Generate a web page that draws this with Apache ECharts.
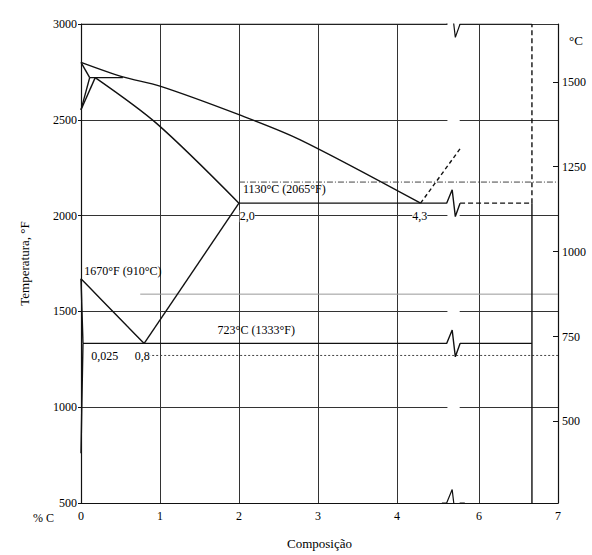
<!DOCTYPE html>
<html>
<head>
<meta charset="utf-8">
<script src="https://cdn.jsdelivr.net/npm/echarts@6/dist/echarts.min.js"></script>
<style>
  html, body { margin: 0; background: #fff; }
  #chart { width: 592px; height: 555px; }
</style>
</head>
<body>
<div id="chart"></div>
<script>
// eixo de composição (%C) com quebra entre 4,7 e 6
var xTickValues = [0, 1, 2, 3, 4, 6, 7]
var yTicksF = [500, 1000, 1500, 2000, 2500, 3000]
var yTicksC = [500, 750, 1000, 1250, 1500]

// curvas do diagrama, pares [%C, °F]
var liquidus = [[0, 2800], [0.53, 2724], [1.0, 2676], [2.0, 2527], [2.77, 2397], [4.3, 2065]]
var liquidusHyper = [[4.3, 2065], [4.82, 2360]]
var solidus = [[0.18, 2720], [0.96, 2480], [2.0, 2065]]
var peritectic = [[0.11, 2720], [0.53, 2720]]
var deltaTop = [[0, 2800], [0.11, 2720]]
var deltaLeft = [[0, 2552], [0.11, 2720]]
var deltaRight = [[0, 2552], [0.18, 2720]]
var a3 = [[0, 1670], [0.24, 1569], [0.58, 1425], [0.8, 1333]]
var acm = [[0.8, 1333], [2.0, 2065]]
var alphaA3 = [[0, 1670], [0.025, 1333]]
var alphaSolvus = [[0.025, 1333], [0.01, 1000], [0, 760]]
var eutecticY = 2065
var eutectoidY = 1333
var cementiteC = 6.67
// linhas auxiliares do papel (°F)
var guideY = [2175, 1590, 1270]
var guideStart = [2.0, 0.75, 0.8]

// rótulos [texto, %C, °F, alinhamento]
var notes = [
  ['1130°C (2065°F)', 2.05, 2137, 'left'],
  ['2,0', 2.01, 1997, 'left'],
  ['4,3', 4.29, 1997, 'center'],
  ['1670°F (910°C)', 0.04, 1711, 'left'],
  ['723°C (1333°F)', 1.73, 1404, 'left'],
  ['0,025', 0.13, 1269, 'left'],
  ['0,8', 0.68, 1269, 'left']
]

var BREAK_SHIFT = 0.96
function toDisp(c) {
  return c <= 5 ? c : c - BREAK_SHIFT
}
function fromDisp(v) {
  return v <= 5 ? v : Math.round((v + BREAK_SHIFT) * 100) / 100
}
function pts(arr) {
  return arr.map(function(p) { return [toDisp(p[0]), p[1]] })
}

var ZX = [4.63, 4.70, 4.74, 4.80]
var ZA = 70
function zigzag(y) {
  return [[ZX[0], y], [ZX[1], y + ZA], [ZX[2], y - ZA], [ZX[3], y]]
}

function line(data, opt) {
  opt = opt || {}
  return {
    type: 'line',
    data: data,
    symbol: 'none',
    silent: true,
    animation: false,
    smooth: opt.smooth || false,
    z: 4,
    lineStyle: { color: opt.color || '#111', width: opt.width || 1.4, type: opt.type || 'solid' }
  }
}

var series = []
// faixa branca da quebra
series.push({
  type: 'line',
  data: [],
  silent: true,
  markArea: {
    silent: true,
    itemStyle: { color: '#fff' },
    data: [[{ xAxis: ZX[0] + 0.01, yAxis: 500 }, { xAxis: ZX[3] - 0.005, yAxis: 3000 }]]
  },
  z: 3
})
// linhas auxiliares
guideY.forEach(function(y, i) {
  series.push(line([[toDisp(guideStart[i]), y], [toDisp(7), y]],
    { color: i === 1 ? '#999' : '#444', width: 1, type: i === 0 ? [6, 2, 1, 2] : (i === 2 ? [2, 2] : 'solid') }))
})
// borda superior
series.push(line([[0, 3000]].concat(zigzag(3000)).concat([[toDisp(cementiteC), 3000]]), { width: 1.2 }))
series.push(line(pts(liquidus), { smooth: 0.3 }))
series.push(line(pts(liquidusHyper), { type: [4, 3] }))
series.push(line(pts(solidus), { smooth: 0.3 }))
series.push(line(pts(peritectic)))
series.push(line(pts(deltaTop)))
series.push(line(pts(deltaLeft)))
series.push(line(pts(deltaRight)))
series.push(line(pts(a3), { smooth: 0.3 }))
series.push(line(pts(acm)))
series.push(line(pts(alphaA3)))
series.push(line(pts(alphaSolvus)))
// eutético
series.push(line([[2.0, eutecticY]].concat(zigzag(eutecticY))))
series.push(line([[ZX[3], eutecticY], [toDisp(cementiteC), eutecticY]], { type: [5, 3] }))
// eutetoide
series.push(line([[0.025, eutectoidY]].concat(zigzag(eutectoidY)).concat([[toDisp(cementiteC), eutectoidY]])))
// cementita
series.push(line([[toDisp(cementiteC), eutecticY], [toDisp(cementiteC), 3000]], { type: [5, 3] }))
series.push(line([[toDisp(cementiteC), 500], [toDisp(cementiteC), eutecticY]]))
// quebra no eixo inferior
series.push(line([[ZX[0] - 0.06, 500]].concat(zigzag(500)).concat([[ZX[3] + 0.06, 500]]), { width: 1.2 }))

var chart = echarts.init(document.getElementById('chart'), null, { renderer: 'svg' })
chart.setOption({
  backgroundColor: '#fff',
  animation: false,
  textStyle: { fontFamily: 'Liberation Serif' },
  grid: { left: 81, right: 34, top: 24, bottom: 50 },
  xAxis: {
    type: 'value',
    min: 0,
    max: toDisp(7),
    name: 'Composição',
    nameLocation: 'middle',
    nameGap: 34,
    nameTextStyle: { color: '#000', fontSize: 13, fontFamily: 'Liberation Serif' },
    axisLine: { lineStyle: { color: '#111', width: 1.2 } },
    axisTick: { show: false, customValues: xTickValues.map(toDisp) },
    axisLabel: {
      customValues: xTickValues.map(toDisp),
      formatter: function(v) { return String(fromDisp(v)) },
      color: '#000',
      fontSize: 12,
      margin: 7
    },
    splitLine: { show: true, lineStyle: { color: '#333', width: 1 } }
  },
  yAxis: [
    {
      type: 'value',
      min: 500,
      max: 3000,
      interval: 500,
      name: 'Temperatura, °F',
      nameLocation: 'middle',
      nameGap: 50,
      nameTextStyle: { color: '#000', fontSize: 13, fontFamily: 'Liberation Serif' },
      axisLine: { show: true, lineStyle: { color: '#111', width: 1.2 } },
      axisTick: { show: true, length: 3, lineStyle: { color: '#111' } },
      axisLabel: { color: '#000', fontSize: 12, margin: 4, formatter: function(v) { return String(v) } },
      splitLine: { show: true, lineStyle: { color: '#333', width: 1 } }
    },
    {
      type: 'value',
      position: 'right',
      min: 260,
      max: 1670,
      axisLine: { show: true, lineStyle: { color: '#111', width: 1.2 } },
      axisTick: { show: true, inside: true, length: 5, customValues: yTicksC, lineStyle: { color: '#111' } },
      axisLabel: { customValues: yTicksC, color: '#000', fontSize: 12, margin: 4, formatter: function(v) { return String(v) } },
      splitLine: { show: false }
    }
  ],
  series: series
})

// textos posicionados pelas escalas do gráfico
var texts = [
  { type: 'text', left: 569, top: 34, style: { text: '°C', fontSize: 13, fontFamily: 'Liberation Serif', fill: '#000' } },
  { type: 'text', left: 33, top: 512, style: { text: '% C', fontSize: 12, fontFamily: 'Liberation Serif', fill: '#000' } }
]
notes.forEach(function(n) {
  var p = chart.convertToPixel({ gridIndex: 0 }, [toDisp(n[1]), n[2]])
  texts.push({
    type: 'text',
    x: p[0],
    y: p[1],
    z: 10,
    style: {
      text: n[0],
      fill: '#000',
      fontSize: 12,
      fontFamily: 'Liberation Serif',
      align: n[3],
      verticalAlign: 'middle',
      backgroundColor: n[0].length < 6 ? '#fff' : 'transparent'
    }
  })
})
chart.setOption({ graphic: texts })
</script>
</body>
</html>
